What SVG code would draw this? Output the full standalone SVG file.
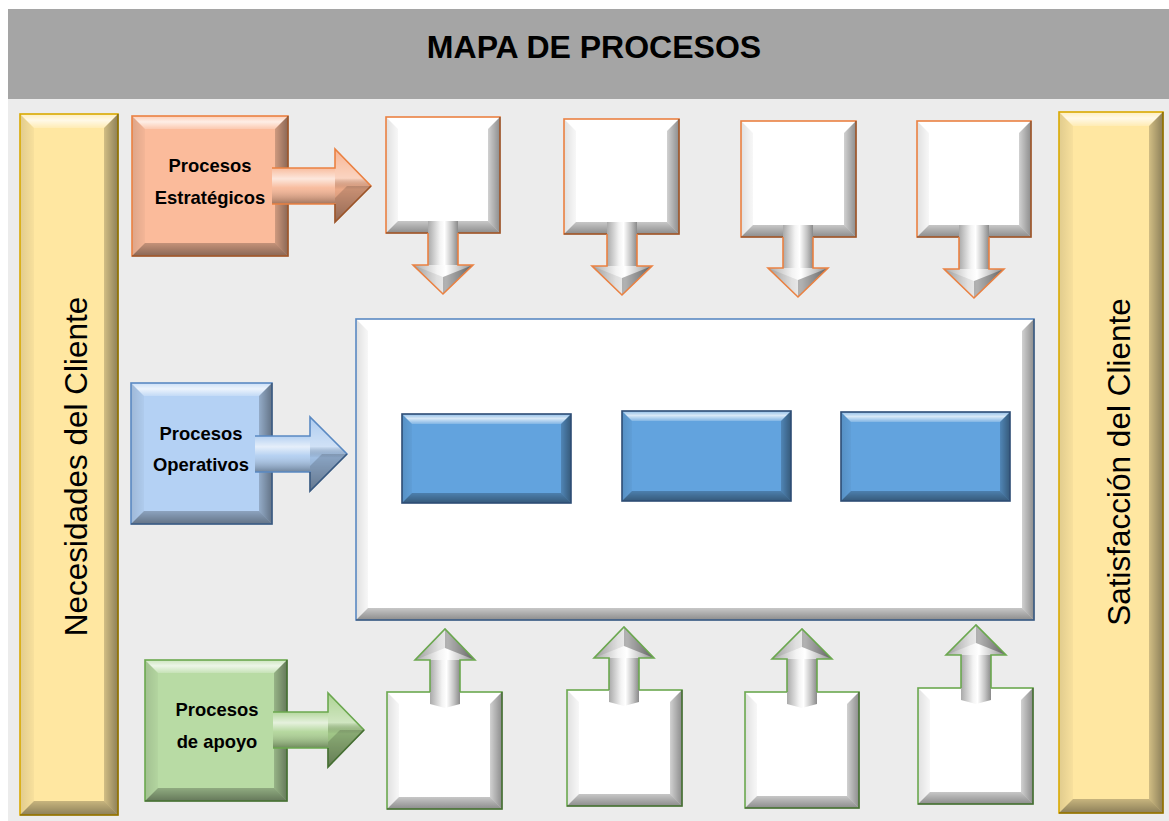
<svg xmlns="http://www.w3.org/2000/svg" width="1169" height="821" viewBox="0 0 1169 821">
  <defs>
    <!-- bevel overlays: shared by every raised tile -->
    <linearGradient id="gTop" x1="0" y1="0" x2="0" y2="1">
      <stop offset="0" stop-color="#fff" stop-opacity="0.3"/>
      <stop offset="0.45" stop-color="#fff" stop-opacity="0.75"/>
      <stop offset="1" stop-color="#fff" stop-opacity="0.2"/>
    </linearGradient>
    <linearGradient id="gLeft" x1="0" y1="0" x2="1" y2="0">
      <stop offset="0" stop-color="#000" stop-opacity="0.12"/>
      <stop offset="1" stop-color="#000" stop-opacity="0.03"/>
    </linearGradient>
    <linearGradient id="gRight" x1="0" y1="0" x2="1" y2="0">
      <stop offset="0" stop-color="#000" stop-opacity="0.18"/>
      <stop offset="1" stop-color="#000" stop-opacity="0.45"/>
    </linearGradient>
    <linearGradient id="gBot" x1="0" y1="0" x2="0" y2="1">
      <stop offset="0" stop-color="#000" stop-opacity="0.22"/>
      <stop offset="1" stop-color="#000" stop-opacity="0.45"/>
    </linearGradient>
    <!-- rounded shaft for vertical white arrows -->
    <linearGradient id="cyl" x1="0" y1="0" x2="1" y2="0">
      <stop offset="0" stop-color="#a9a9a9"/>
      <stop offset="0.4" stop-color="#f3f3f3"/>
      <stop offset="0.55" stop-color="#ffffff"/>
      <stop offset="0.8" stop-color="#c3c3c3"/>
      <stop offset="1" stop-color="#8a8a8a"/>
    </linearGradient>
    <!-- rounded shaft for horizontal coloured arrows -->
    <linearGradient id="cylH" x1="0" y1="0" x2="0" y2="1">
      <stop offset="0" stop-color="#fff" stop-opacity="0.15"/>
      <stop offset="0.3" stop-color="#fff" stop-opacity="0.7"/>
      <stop offset="0.55" stop-color="#fff" stop-opacity="0.15"/>
      <stop offset="1" stop-color="#000" stop-opacity="0.35"/>
    </linearGradient>
    <linearGradient id="headH" x1="0" y1="0" x2="0" y2="1">
      <stop offset="0" stop-color="#fff" stop-opacity="0.05"/>
      <stop offset="0.4" stop-color="#fff" stop-opacity="0.45"/>
      <stop offset="0.55" stop-color="#000" stop-opacity="0.05"/>
      <stop offset="1" stop-color="#000" stop-opacity="0.3"/>
    </linearGradient>
  </defs>
  <style>
    .face-y{fill:#ffe7a1}
    .face-o{fill:#fbbb9b}
    .face-b{fill:#b4d1f4}
    .face-g{fill:#b8dba4}
    .face-w{fill:#ffffff}
    .face-c{fill:#62a3de}
    .ln{fill:none;stroke-width:1.6;stroke-linejoin:miter}
    .ln-y{stroke:#d9a900}
    .ln-o{stroke:#ea8142}
    .ln-b{stroke:#5a89c2}
    .ln-g{stroke:#6ba84f}
    .ln-c{stroke:#2d4d75}
    .bt{fill:url(#gTop)}
    .bl{fill:url(#gLeft)}
    .br{fill:url(#gRight)}
    .bb{fill:url(#gBot)}
    .dk{fill:none;stroke:#000;stroke-opacity:0.35;stroke-width:1.6}
    .cyl{fill:url(#cyl)}
    .cylH{fill:url(#cylH)}
    .headH{fill:url(#headH)}
    .fl{fill:#000;fill-opacity:0.08}
    .fd{fill:#000;fill-opacity:0.3}
    .fm{fill:#000;fill-opacity:0.15}
    .lbl{font-family:"Liberation Sans",Arial,sans-serif;font-weight:bold;font-size:18.4px;fill:#000;text-anchor:middle}
    .side{font-family:"Liberation Sans",Arial,sans-serif;font-size:31.5px;fill:#000;text-anchor:middle}
    .title{font-family:"Liberation Sans",Arial,sans-serif;font-weight:bold;font-size:32px;fill:#000;text-anchor:middle}
  </style>

  <!-- page -->
  <rect x="0" y="0" width="1169" height="821" fill="#ffffff"/>
  <rect x="8" y="99" width="1161" height="722" fill="#ececec"/>

  <g id="header">
    <rect x="8" y="9" width="1161" height="90" fill="#a5a5a5"/>
    <text class="title" x="594" y="58">MAPA DE PROCESOS</text>
  </g>

  <g id="customer-needs">
    <rect class="face-y" x="20" y="114" width="98" height="701"/>
    <polygon class="bt" points="20,114 118,114 104,128 34,128"/>
    <polygon class="bl" points="20,114 34,128 34,801 20,815"/>
    <polygon class="br" points="118,114 118,815 104,801 104,128"/>
    <polygon class="bb" points="20,815 34,801 104,801 118,815"/>
    <rect class="ln ln-y" x="20" y="114" width="98" height="701"/>
    <polyline class="dk" points="118,114 118,815 20,815"/>
    <text class="side" transform="translate(87,466.5) rotate(-90)">Necesidades del Cliente</text>
  </g>

  <g id="customer-satisfaction">
    <rect class="face-y" x="1059" y="112" width="104" height="701"/>
    <polygon class="bt" points="1059,112 1163,112 1149,126 1073,126"/>
    <polygon class="bl" points="1059,112 1073,126 1073,799 1059,813"/>
    <polygon class="br" points="1163,112 1163,813 1149,799 1149,126"/>
    <polygon class="bb" points="1059,813 1073,799 1149,799 1163,813"/>
    <rect class="ln ln-y" x="1059" y="112" width="104" height="701"/>
    <polyline class="dk" points="1163,112 1163,813 1059,813"/>
    <text class="side" transform="translate(1130,462) rotate(-90)">Satisfacción del Cliente</text>
  </g>

  <g id="strategic">
    <rect class="face-o" x="132" y="116" width="156" height="140"/>
    <polygon class="bt" points="132,116 288,116 275,129 145,129"/>
    <polygon class="bl" points="132,116 145,129 145,243 132,256"/>
    <polygon class="br" points="288,116 288,256 275,243 275,129"/>
    <polygon class="bb" points="132,256 145,243 275,243 288,256"/>
    <rect class="ln ln-o" x="132" y="116" width="156" height="140"/>
    <polyline class="dk" points="288,116 288,256 132,256"/>
    <text class="lbl" x="210" y="172">Procesos</text>
    <text class="lbl" x="210" y="204">Estratégicos</text>
  </g>

  <g id="operational">
    <rect class="face-b" x="131" y="383" width="141" height="141"/>
    <polygon class="bt" points="131,383 272,383 259,396 144,396"/>
    <polygon class="bl" points="131,383 144,396 144,511 131,524"/>
    <polygon class="br" points="272,383 272,524 259,511 259,396"/>
    <polygon class="bb" points="131,524 144,511 259,511 272,524"/>
    <rect class="ln ln-b" x="131" y="383" width="141" height="141"/>
    <polyline class="dk" points="272,383 272,524 131,524"/>
    <text class="lbl" x="201" y="440">Procesos</text>
    <text class="lbl" x="201" y="471">Operativos</text>
  </g>

  <g id="support">
    <rect class="face-g" x="145" y="660" width="142" height="141"/>
    <polygon class="bt" points="145,660 287,660 274,673 158,673"/>
    <polygon class="bl" points="145,660 158,673 158,788 145,801"/>
    <polygon class="br" points="287,660 287,801 274,788 274,673"/>
    <polygon class="bb" points="145,801 158,788 274,788 287,801"/>
    <rect class="ln ln-g" x="145" y="660" width="142" height="141"/>
    <polyline class="dk" points="287,660 287,801 145,801"/>
    <text class="lbl" x="217" y="716">Procesos</text>
    <text class="lbl" x="217" y="748">de apoyo</text>
  </g>

  <!-- strategic process slots -->
  <g id="strategic-1">
    <rect class="face-w" x="386" y="117" width="114" height="116"/>
    <polygon class="bt" points="386,117 500,117 488,129 398,129"/>
    <polygon class="bl" points="386,117 398,129 398,221 386,233"/>
    <polygon class="br" points="500,117 500,233 488,221 488,129"/>
    <polygon class="bb" points="386,233 398,221 488,221 500,233"/>
    <rect class="ln ln-o" x="386" y="117" width="114" height="116"/>
    <polyline class="dk" points="500,117 500,233 386,233"/>
  </g>
  <g id="strategic-2">
    <rect class="face-w" x="564" y="119" width="115" height="115"/>
    <polygon class="bt" points="564,119 679,119 667,131 576,131"/>
    <polygon class="bl" points="564,119 576,131 576,222 564,234"/>
    <polygon class="br" points="679,119 679,234 667,222 667,131"/>
    <polygon class="bb" points="564,234 576,222 667,222 679,234"/>
    <rect class="ln ln-o" x="564" y="119" width="115" height="115"/>
    <polyline class="dk" points="679,119 679,234 564,234"/>
  </g>
  <g id="strategic-3">
    <rect class="face-w" x="741" y="121" width="115" height="116"/>
    <polygon class="bt" points="741,121 856,121 844,133 753,133"/>
    <polygon class="bl" points="741,121 753,133 753,225 741,237"/>
    <polygon class="br" points="856,121 856,237 844,225 844,133"/>
    <polygon class="bb" points="741,237 753,225 844,225 856,237"/>
    <rect class="ln ln-o" x="741" y="121" width="115" height="116"/>
    <polyline class="dk" points="856,121 856,237 741,237"/>
  </g>
  <g id="strategic-4">
    <rect class="face-w" x="917" y="121" width="114" height="116"/>
    <polygon class="bt" points="917,121 1031,121 1019,133 929,133"/>
    <polygon class="bl" points="917,121 929,133 929,225 917,237"/>
    <polygon class="br" points="1031,121 1031,237 1019,225 1019,133"/>
    <polygon class="bb" points="917,237 929,225 1019,225 1031,237"/>
    <rect class="ln ln-o" x="917" y="121" width="114" height="116"/>
    <polyline class="dk" points="1031,121 1031,237 917,237"/>
  </g>

  <!-- operational panel with its three processes -->
  <g id="operational-panel">
    <rect class="face-w" x="356" y="319" width="678" height="301"/>
    <polygon class="bt" points="356,319 1034,319 1022,331 368,331"/>
    <polygon class="bl" points="356,319 368,331 368,608 356,620"/>
    <polygon class="br" points="1034,319 1034,620 1022,608 1022,331"/>
    <polygon class="bb" points="356,620 368,608 1022,608 1034,620"/>
    <rect class="ln ln-b" x="356" y="319" width="678" height="301"/>
    <polyline class="dk" points="1034,319 1034,620 356,620"/>
  </g>
  <g id="operational-1">
    <rect class="face-c" x="402" y="414" width="169" height="89"/>
    <polygon class="bt" points="402,414 571,414 561,424 412,424"/>
    <polygon class="bl" points="402,414 412,424 412,493 402,503"/>
    <polygon class="br" points="571,414 571,503 561,493 561,424"/>
    <polygon class="bb" points="402,503 412,493 561,493 571,503"/>
    <rect class="ln ln-c" x="402" y="414" width="169" height="89"/>
  </g>
  <g id="operational-2">
    <rect class="face-c" x="622" y="411" width="169" height="90"/>
    <polygon class="bt" points="622,411 791,411 781,421 632,421"/>
    <polygon class="bl" points="622,411 632,421 632,491 622,501"/>
    <polygon class="br" points="791,411 791,501 781,491 781,421"/>
    <polygon class="bb" points="622,501 632,491 781,491 791,501"/>
    <rect class="ln ln-c" x="622" y="411" width="169" height="90"/>
  </g>
  <g id="operational-3">
    <rect class="face-c" x="841" y="412" width="169" height="89"/>
    <polygon class="bt" points="841,412 1010,412 1000,422 851,422"/>
    <polygon class="bl" points="841,412 851,422 851,491 841,501"/>
    <polygon class="br" points="1010,412 1010,501 1000,491 1000,422"/>
    <polygon class="bb" points="841,501 851,491 1000,491 1010,501"/>
    <rect class="ln ln-c" x="841" y="412" width="169" height="89"/>
  </g>

  <!-- support process slots -->
  <g id="support-1">
    <rect class="face-w" x="387" y="692" width="115" height="117"/>
    <polygon class="bt" points="387,692 502,692 490,704 399,704"/>
    <polygon class="bl" points="387,692 399,704 399,797 387,809"/>
    <polygon class="br" points="502,692 502,809 490,797 490,704"/>
    <polygon class="bb" points="387,809 399,797 490,797 502,809"/>
    <rect class="ln ln-g" x="387" y="692" width="115" height="117"/>
    <polyline class="dk" points="502,692 502,809 387,809"/>
  </g>
  <g id="support-2">
    <rect class="face-w" x="567" y="690" width="115" height="116"/>
    <polygon class="bt" points="567,690 682,690 670,702 579,702"/>
    <polygon class="bl" points="567,690 579,702 579,794 567,806"/>
    <polygon class="br" points="682,690 682,806 670,794 670,702"/>
    <polygon class="bb" points="567,806 579,794 670,794 682,806"/>
    <rect class="ln ln-g" x="567" y="690" width="115" height="116"/>
    <polyline class="dk" points="682,690 682,806 567,806"/>
  </g>
  <g id="support-3">
    <rect class="face-w" x="745" y="692" width="114" height="116"/>
    <polygon class="bt" points="745,692 859,692 847,704 757,704"/>
    <polygon class="bl" points="745,692 757,704 757,796 745,808"/>
    <polygon class="br" points="859,692 859,808 847,796 847,704"/>
    <polygon class="bb" points="745,808 757,796 847,796 859,808"/>
    <rect class="ln ln-g" x="745" y="692" width="114" height="116"/>
    <polyline class="dk" points="859,692 859,808 745,808"/>
  </g>
  <g id="support-4">
    <rect class="face-w" x="918" y="688" width="115" height="116"/>
    <polygon class="bt" points="918,688 1033,688 1021,700 930,700"/>
    <polygon class="bl" points="918,688 930,700 930,792 918,804"/>
    <polygon class="br" points="1033,688 1033,804 1021,792 1021,700"/>
    <polygon class="bb" points="918,804 930,792 1021,792 1033,804"/>
    <rect class="ln ln-g" x="918" y="688" width="115" height="116"/>
    <polyline class="dk" points="1033,688 1033,804 918,804"/>
  </g>

  <g id="connectors">
    <!-- horizontal block arrows from the three process families -->
    <polygon fill="#f7b18e" points="272,168 335,168 335,149 371,186 335,222 335,204 272,204"/>
    <rect class="cylH" x="272" y="168" width="63" height="36"/>
    <polygon class="headH" points="335,149 371,186 335,222"/>
    <polygon class="fm" points="335,222 371,186 347,186 335,198"/>
    <path class="ln ln-o" d="M272,168 H335 V149 L371,186 L335,222 V204 H272"/>
    <polyline class="dk" points="371,186 335,222 335,204"/>

    <polygon fill="#a9c9ef" points="255,436 310,436 310,417 347,454 310,491 310,472 255,472"/>
    <rect class="cylH" x="255" y="436" width="55" height="36"/>
    <polygon class="headH" points="310,417 347,454 310,491"/>
    <polygon class="fm" points="310,491 347,454 322,454 310,466"/>
    <path class="ln ln-b" d="M255,436 H310 V417 L347,454 L310,491 V472 H255"/>
    <polyline class="dk" points="347,454 310,491 310,472"/>

    <polygon fill="#a9d18e" points="273,712 328,712 328,693 364,730 328,767 328,748 273,748"/>
    <rect class="cylH" x="273" y="712" width="55" height="36"/>
    <polygon class="headH" points="328,693 364,730 328,767"/>
    <polygon class="fm" points="328,767 364,730 340,730 328,742"/>
    <path class="ln ln-g" d="M273,712 H328 V693 L364,730 L328,767 V748 H273"/>
    <polyline class="dk" points="364,730 328,767 328,748"/>

    <!-- strategic slots feeding down into the panel -->
    <rect class="cyl" x="428" y="221" width="30" height="45"/>
    <polygon class="cyl" points="413,265 473,265 443,294"/>
    <polygon class="fl" points="413,265 443,277 443,294"/>
    <polygon class="fd" points="473,265 443,294 443,277"/>
    <path class="ln ln-o" d="M428,233 V265 H413 L443,294 L473,265 H458 V233"/>

    <rect class="cyl" x="607" y="222" width="30" height="45"/>
    <polygon class="cyl" points="592,266 652,266 622,295"/>
    <polygon class="fl" points="592,266 622,278 622,295"/>
    <polygon class="fd" points="652,266 622,295 622,278"/>
    <path class="ln ln-o" d="M607,234 V266 H592 L622,295 L652,266 H637 V234"/>

    <rect class="cyl" x="783" y="225" width="30" height="44"/>
    <polygon class="cyl" points="768,268 828,268 798,297"/>
    <polygon class="fl" points="768,268 798,280 798,297"/>
    <polygon class="fd" points="828,268 798,297 798,280"/>
    <path class="ln ln-o" d="M783,237 V268 H768 L798,297 L828,268 H813 V237"/>

    <rect class="cyl" x="959" y="225" width="30" height="45"/>
    <polygon class="cyl" points="944,269 1004,269 974,298"/>
    <polygon class="fl" points="944,269 974,281 974,298"/>
    <polygon class="fd" points="1004,269 974,298 974,281"/>
    <path class="ln ln-o" d="M959,237 V269 H944 L974,298 L1004,269 H989 V237"/>

    <!-- support slots feeding up into the panel -->
    <polygon class="cyl" points="430,659 460,659 460,704 445,708 430,704"/>
    <polygon class="cyl" points="415,660 475,660 445,629"/>
    <polygon class="fl" points="415,660 445,648 445,629"/>
    <polygon class="fd" points="475,660 445,629 445,648"/>
    <path class="ln ln-g" d="M430,692 V660 H415 L445,629 L475,660 H460 V692"/>

    <polygon class="cyl" points="609,657 639,657 639,702 624,706 609,702"/>
    <polygon class="cyl" points="594,658 654,658 624,627"/>
    <polygon class="fl" points="594,658 624,646 624,627"/>
    <polygon class="fd" points="654,658 624,627 624,646"/>
    <path class="ln ln-g" d="M609,690 V658 H594 L624,627 L654,658 H639 V690"/>

    <polygon class="cyl" points="787,658 817,658 817,704 802,708 787,704"/>
    <polygon class="cyl" points="772,659 832,659 802,629"/>
    <polygon class="fl" points="772,659 802,647 802,629"/>
    <polygon class="fd" points="832,659 802,629 802,647"/>
    <path class="ln ln-g" d="M787,692 V659 H772 L802,629 L832,659 H817 V692"/>

    <polygon class="cyl" points="961,654 991,654 991,700 976,704 961,700"/>
    <polygon class="cyl" points="946,655 1006,655 976,625"/>
    <polygon class="fl" points="946,655 976,643 976,625"/>
    <polygon class="fd" points="1006,655 976,625 976,643"/>
    <path class="ln ln-g" d="M961,688 V655 H946 L976,625 L1006,655 H991 V688"/>
  </g>
</svg>
